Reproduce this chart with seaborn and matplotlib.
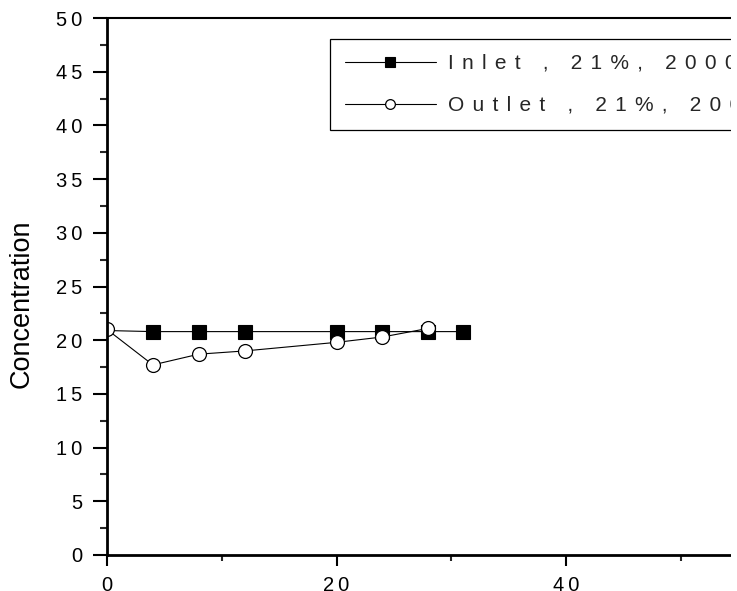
import matplotlib
matplotlib.use("Agg")
import matplotlib.pyplot as plt
from matplotlib.patches import Rectangle
from matplotlib.ticker import MultipleLocator, FuncFormatter
import seaborn as sns
import pandas as pd

# Measured concentrations over time
time_inlet = [0, 4, 8, 12, 20, 24, 28, 31]
conc_inlet = [20.9, 20.8, 20.8, 20.8, 20.8, 20.8, 20.8, 20.8]
time_outlet = [0, 4, 8, 12, 20, 24, 28]
conc_outlet = [21.0, 17.7, 18.7, 19.0, 19.8, 20.3, 21.1]
label_inlet = "Inlet , 21%, 2000 ppm"
label_outlet = "Outlet , 21%, 2000 ppm"
y_title = "Concentration"

sns.set_theme(style="white")
plt.rcParams["font.family"] = ["Liberation Sans", "DejaVu Sans"]


def tracked(s, gap):
    """Spread the glyphs of a string apart (wide letter tracking)."""
    return gap.join(s)


LEGEND_GAP = "\u2009\u2009"
TICK_GAP = "\u2009"

W, H = 737, 591
fig = plt.figure(figsize=(W / 100, H / 100), dpi=100)
fig.patch.set_facecolor("white")

x0, x_right, y_bottom, y_top = 107, 731, 555, 18
ax = fig.add_axes([x0 / W, (H - y_bottom) / H, (x_right - x0) / W, (y_bottom - y_top) / H])
ax.set_facecolor("white")

df_in = pd.DataFrame({"time": time_inlet, "conc": conc_inlet})
df_out = pd.DataFrame({"time": time_outlet, "conc": conc_outlet})

sns.lineplot(data=df_in, x="time", y="conc", ax=ax, color="black", linewidth=0.8,
             marker="s", markersize=10, markerfacecolor="black",
             markeredgecolor="black", markeredgewidth=0.8,
             markevery=slice(1, None), label=tracked(label_inlet, LEGEND_GAP))
sns.lineplot(data=df_out, x="time", y="conc", ax=ax, color="black", linewidth=0.8,
             marker="o", markersize=10, markerfacecolor="white",
             markeredgecolor="black", markeredgewidth=0.9,
             label=tracked(label_outlet, LEGEND_GAP))

ax.set_xlim(0, (x_right - x0) / 11.475)
ax.set_ylim(0, 50)
ax.xaxis.set_major_locator(MultipleLocator(20))
ax.xaxis.set_minor_locator(MultipleLocator(10))
ax.yaxis.set_major_locator(MultipleLocator(5))
ax.yaxis.set_minor_locator(MultipleLocator(2.5))
fmt = FuncFormatter(lambda v, pos: tracked(f"{v:g}", TICK_GAP))
ax.xaxis.set_major_formatter(fmt)
ax.yaxis.set_major_formatter(fmt)

ax.tick_params(axis="y", which="major", direction="out", length=10, width=1.5,
               pad=8, labelsize=14.5, colors="black", left=True)
ax.tick_params(axis="y", which="minor", direction="out", length=5, width=1.5, left=True)
ax.tick_params(axis="x", which="major", direction="out", length=8, width=1.5,
               pad=7, labelsize=14.5, colors="black", bottom=True)
ax.tick_params(axis="x", which="minor", direction="out", length=4.5, width=1.5, bottom=True)

for side in ("left", "bottom"):
    ax.spines[side].set_linewidth(2.0)
    ax.spines[side].set_color("black")
ax.spines["top"].set_linewidth(1.5)
ax.spines["top"].set_color("black")
ax.spines["right"].set_visible(False)

ax.set_xlabel("")
ax.set_ylabel(y_title, fontsize=19.5, color="black")
ax.yaxis.set_label_coords((35 - x0) / (x_right - x0), (y_bottom - 304) / (y_bottom - y_top))

handles, labels = ax.get_legend_handles_labels()
leg = ax.legend(handles, labels, loc="upper left",
                bbox_to_anchor=(330 / W, 1 - 39 / H), bbox_transform=fig.transFigure,
                fontsize=15, frameon=True, fancybox=False, shadow=False,
                borderpad=0.72, labelspacing=1.12, handlelength=4.35,
                handletextpad=0.6, markerscale=0.7, borderaxespad=0)
leg.get_frame().set_edgecolor("black")
leg.get_frame().set_linewidth(0.9)
leg.get_frame().set_facecolor("white")
leg.get_frame().set_alpha(1)

# blank strip along the right edge
fig.add_artist(Rectangle((x_right / W, 0), 1 - x_right / W, 1, transform=fig.transFigure,
                         facecolor="white", edgecolor="none", zorder=20))

fig.savefig("out.png", dpi=100)
